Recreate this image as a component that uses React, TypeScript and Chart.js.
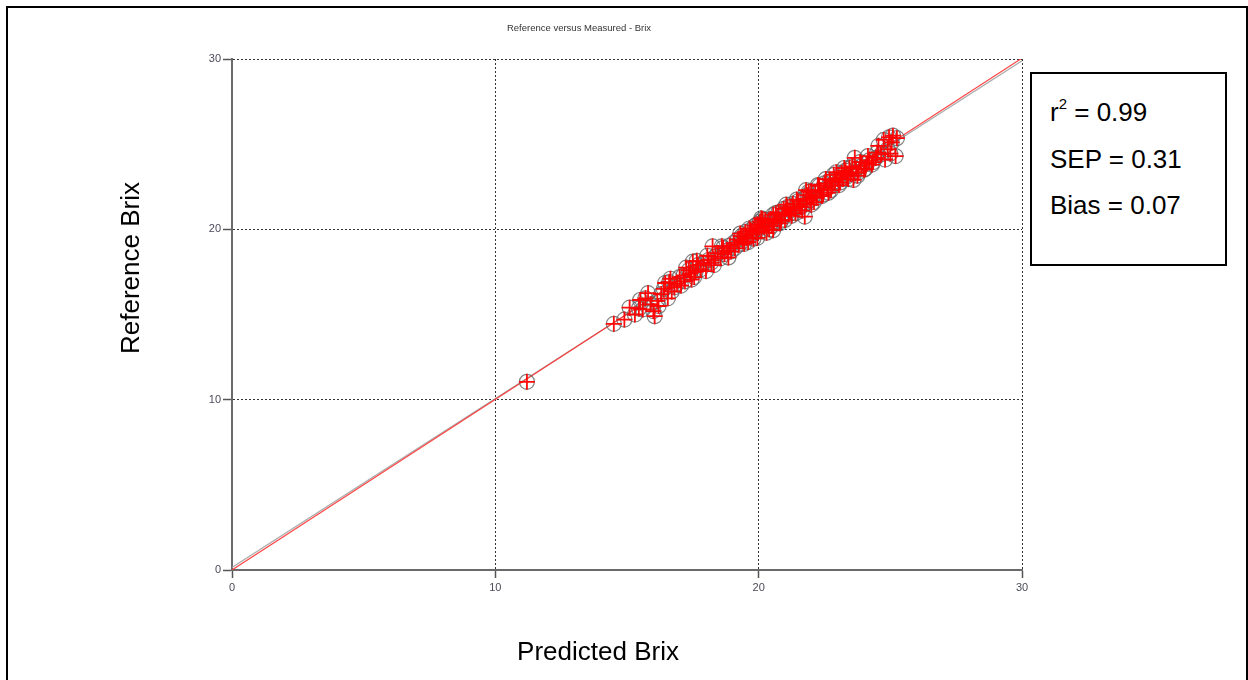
import React, { useEffect, useRef } from "react";
import { Chart, registerables } from "chart.js";

Chart.register(...registerables);

const chartTitle = "Reference versus Measured - Brix";
const xAxisTitle = "Predicted Brix";
const yAxisTitle = "Reference Brix";
const statLines = ["SEP = 0.31", "Bias = 0.07"];
const r2Value = "0.99";

const axisTicks = [0, 10, 20, 30];

const predicted = [
  11.2, 14.5, 14.9, 15.1, 15.3, 15.5, 15.6, 15.8, 15.9, 16.0, 16.05, 16.15, 16.3, 16.4, 16.55, 16.6, 16.65,
  16.8, 16.9, 17.0, 17.15, 17.2, 17.35, 17.4, 17.5, 17.55, 17.6, 17.7, 17.8, 17.9, 18.0, 18.1, 18.2, 18.25,
  18.35, 18.45, 18.55, 18.65, 18.7, 18.8, 18.9, 18.95, 19.05, 19.1, 19.2, 19.25, 19.35, 19.4, 19.5, 19.55,
  19.6, 19.7, 19.75, 19.85, 19.9, 19.95, 20.0, 20.05, 20.1, 20.2, 20.25, 20.3, 20.35, 20.45, 20.5, 20.55,
  20.6, 20.7, 20.75, 20.8, 20.9, 20.95, 21.0, 21.1, 21.15, 21.2, 21.3, 21.35, 21.4, 21.5, 21.55, 21.65, 21.7,
  21.75, 21.8, 21.85, 21.95, 22.0, 22.05, 22.15, 22.2, 22.3, 22.35, 22.45, 22.5, 22.6, 22.65, 22.7, 22.8,
  22.85, 22.9, 23.0, 23.05, 23.15, 23.2, 23.3, 23.35, 23.45, 23.5, 23.6, 23.65, 23.7, 23.8, 23.9, 24.0, 24.1,
  24.2, 24.3, 24.45, 24.55, 24.65, 24.75, 24.9, 25.0, 25.1, 25.2, 25.25,
  19.3, 19.45, 19.65, 19.8, 20.15, 20.4, 20.65, 20.85, 21.05, 21.25, 21.45, 21.6, 21.9, 22.1, 22.25, 22.4,
  22.55, 22.75, 22.95, 23.1, 23.25, 23.4, 23.55, 23.75, 23.85, 24.05, 24.15, 24.35, 24.5, 24.8, 25.05, 24.95,
  18.05, 18.3, 18.6, 18.85, 17.25, 17.45, 17.65, 17.05, 16.7, 16.45, 16.2, 15.7, 15.45, 20.55, 21.0, 20.1,
  19.95, 22.0, 21.8,
];

const reference = [
  11.05, 14.45, 14.7, 15.4, 15.0, 15.85, 15.3, 16.25, 15.6, 15.2, 14.9, 15.8, 16.2, 16.5, 15.95, 16.9, 17.1,
  16.6, 16.8, 17.2, 17.3, 16.95, 17.6, 17.4, 18.1, 17.2, 17.5, 17.9, 17.65, 18.0, 17.55, 18.2, 18.05, 19.0,
  18.4, 18.6, 18.3, 18.9, 18.55, 18.75, 19.05, 18.7, 19.2, 18.9, 19.4, 19.1, 19.6, 19.3, 19.85, 19.5,
  19.25, 19.95, 19.7, 20.2, 19.85, 19.5, 20.1, 20.45, 19.9, 20.15, 20.55, 19.8, 20.35, 20.6, 20.2, 20.85,
  20.45, 20.6, 21.0, 20.35, 20.8, 21.2, 20.95, 21.3, 20.9, 21.1, 21.5, 21.2, 20.95, 21.65, 21.35, 21.1, 21.8,
  20.75, 21.5, 22.0, 21.7, 22.25, 21.9, 22.2, 21.85, 22.55, 22.3, 22.05, 22.7, 22.4, 22.15, 22.9, 22.55,
  23.2, 22.8, 23.0, 22.6, 23.3, 22.95, 23.45, 23.1, 23.6, 23.25, 22.9, 24.2, 23.55, 23.35, 23.7, 23.5, 23.85,
  24.05, 23.8, 24.2, 24.9, 24.4, 25.25, 24.7, 24.45, 25.5, 24.3, 25.35,
  19.75, 19.15, 20.05, 19.45, 20.6, 20.0, 20.95, 20.5, 21.45, 20.8, 21.75, 21.3, 22.2, 21.6, 22.6, 21.95,
  22.95, 22.3, 23.35, 22.75, 23.6, 22.95, 23.7, 23.15, 23.95, 23.55, 24.3, 23.95, 24.5, 24.1, 25.1, 25.4,
  18.45, 17.9, 19.0, 18.35, 17.75, 17.05, 18.15, 16.7, 16.35, 16.85, 15.5, 15.95, 15.35, 19.95, 20.55, 20.65,
  20.3, 21.45, 22.3,
];

const lineX = [0, 30];
const regressionY = [0, 30.05];
const identityY = [0.15, 29.9];

const FONT = "Arial, 'Liberation Sans', sans-serif";

export default function App() {
  const canvasRef = useRef<HTMLCanvasElement | null>(null);

  useEffect(() => {
    if (!canvasRef.current) return;
    const pts = predicted.map((x, i) => ({ x, y: reference[i] }));
    const chart = new Chart(canvasRef.current, {
      type: "scatter",
      data: {
        datasets: [
          {
            type: "line",
            data: lineX.map((x, i) => ({ x, y: identityY[i] })),
            borderColor: "rgba(160,160,160,0.9)",
            borderWidth: 1.2,
            pointRadius: 0,
            fill: false,
            order: 4,
          },
          {
            type: "line",
            data: lineX.map((x, i) => ({ x, y: regressionY[i] })),
            borderColor: "rgba(255,50,50,0.9)",
            borderWidth: 1.2,
            pointRadius: 0,
            fill: false,
            order: 3,
          },
          {
            data: pts,
            pointStyle: "circle",
            pointRadius: 7.5,
            pointBorderWidth: 1.2,
            pointBorderColor: "rgba(100,100,100,0.8)",
            pointBackgroundColor: "rgba(255,255,255,0)",
            order: 2,
          },
          {
            data: pts,
            pointStyle: "cross",
            pointRadius: 8,
            pointBorderWidth: 1.8,
            pointBorderColor: "rgba(255,0,0,0.95)",
            order: 1,
          },
        ],
      },
      options: {
        responsive: false,
        animation: false,
        events: [],
        layout: { padding: { left: 0, top: 59, right: 226, bottom: 0 } },
        plugins: { legend: { display: false }, tooltip: { enabled: false }, title: { display: false } },
        scales: {
          x: {
            type: "linear",
            min: 0,
            max: 30,
            afterFit: (s: any) => {
              s.height = 110;
            },
            afterBuildTicks: (s: any) => {
              s.ticks = axisTicks.map((v) => ({ value: v }));
            },
            ticks: {
              padding: 3,
              color: "#4a4a5a",
              font: { family: FONT, size: 11 },
              maxRotation: 0,
            },
            grid: {
              color: (c: any) => (c.tick && c.tick.value === 0 ? "rgba(0,0,0,0)" : "#333"),
              lineWidth: 1,
              tickColor: "#555",
              tickLength: 8,
              tickWidth: 1.5,
            },
            border: { display: true, color: "#6a6a6a", width: 2, dash: [2, 2] },
          },
          y: {
            type: "linear",
            min: 0,
            max: 30,
            afterFit: (s: any) => {
              s.width = 232;
            },
            afterBuildTicks: (s: any) => {
              s.ticks = axisTicks.map((v) => ({ value: v }));
            },
            ticks: {
              padding: 2,
              color: "#4a4a5a",
              font: { family: FONT, size: 11 },
            },
            grid: {
              color: (c: any) => (c.tick && c.tick.value === 0 ? "rgba(0,0,0,0)" : "#333"),
              lineWidth: 1,
              tickColor: "#555",
              tickLength: 9,
              tickWidth: 1.5,
            },
            border: { display: true, color: "#6a6a6a", width: 2, dash: [2, 2] },
          },
        },
      },
    });
    return () => chart.destroy();
  }, []);

  return (
    <div
      style={{
        position: "fixed",
        left: 0,
        top: 0,
        width: 1248,
        height: 680,
        background: "#fff",
        overflow: "hidden",
        fontFamily: FONT,
      }}
    >
      <div
        style={{
          position: "absolute",
          left: 6,
          top: 6,
          width: 1242,
          height: 700,
          boxSizing: "border-box",
          border: "2px solid #000",
        }}
      />
      <canvas ref={canvasRef} width={1248} height={680} style={{ position: "absolute", left: 0, top: 0 }} />
      <div
        style={{
          position: "absolute",
          left: 579,
          top: 27,
          transform: "translate(-50%, -50%)",
          fontSize: 9.5,
          color: "#333",
          whiteSpace: "nowrap",
        }}
      >
        {chartTitle}
      </div>
      <div
        style={{
          position: "absolute",
          left: 130,
          top: 268,
          transform: "translate(-50%, -50%) rotate(-90deg)",
          fontSize: 26,
          color: "#000",
          whiteSpace: "nowrap",
          lineHeight: 1,
        }}
      >
        {yAxisTitle}
      </div>
      <div
        style={{
          position: "absolute",
          left: 598,
          top: 651,
          transform: "translate(-50%, -50%)",
          fontSize: 26,
          color: "#000",
          whiteSpace: "nowrap",
          lineHeight: 1,
        }}
      >
        {xAxisTitle}
      </div>
      <div
        style={{
          position: "absolute",
          left: 1030,
          top: 72,
          width: 197,
          height: 194,
          boxSizing: "border-box",
          border: "2px solid #000",
          background: "#fff",
        }}
      >
        <div style={{ position: "absolute", left: 18, top: 25, fontSize: 26, lineHeight: 1, whiteSpace: "nowrap" }}>
          r<sup style={{ fontSize: 15, verticalAlign: "top", position: "relative", top: -3 }}>2</sup> = {r2Value}
        </div>
        {statLines.map((t, i) => (
          <div
            key={t}
            style={{ position: "absolute", left: 18, top: 72 + i * 46, fontSize: 26, lineHeight: 1, whiteSpace: "nowrap" }}
          >
            {t}
          </div>
        ))}
      </div>
    </div>
  );
}
